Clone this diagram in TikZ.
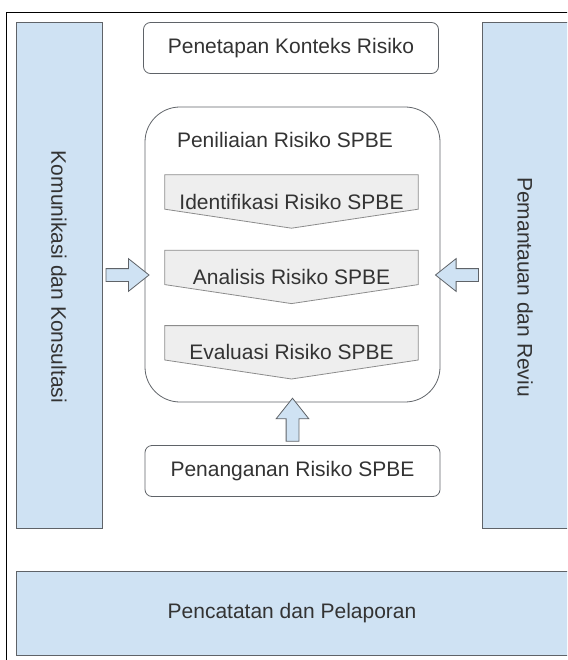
\documentclass[tikz,border=0pt]{standalone}
\usepackage{fontspec}
\setmainfont{Liberation Sans}
\usepackage{xcolor}
\usetikzlibrary{positioning}
\usetikzlibrary{shapes, arrows}
\usetikzlibrary{backgrounds}
\definecolor{barblue}{HTML}{CFE2F3}
\definecolor{edgegray}{HTML}{5F6368}
\definecolor{chevgray}{HTML}{EEEEEE}
\definecolor{chevedge}{HTML}{8C8C8C}
\definecolor{textgray}{HTML}{333333}
\tikzstyle{stage} = [rectangle, draw=edgegray, line width=0.8pt, rounded corners=7pt,
minimum width=295pt, minimum height=51pt, text=textgray, font=\fontsize{21}{25}\selectfont]
\tikzstyle{sidebar} = [rectangle, draw=edgegray, line width=0.8pt, fill=barblue,
minimum width=86pt, minimum height=506pt]
\tikzstyle{chev} = [minimum width=253pt, minimum height=53pt, inner sep=0pt,
text=textgray, font=\fontsize{21}{25}\selectfont]
\tikzstyle{chevshape} = [draw=chevedge, line width=0.8pt, fill=chevgray]
\tikzstyle{label} = [text=textgray, font=\fontsize{21}{25}\selectfont]
\tikzstyle{blockarrow} = [single arrow, draw=edgegray, line width=0.8pt, fill=barblue,
inner sep=6pt, single arrow head extend=10pt, single arrow tip angle=77,
minimum height=43pt, sloped, allow upside down]

\begin{document}
\begin{tikzpicture}[x=1pt, y=-1pt]
	\useasboundingbox (0,0) rectangle (567,660);
	\clip (0,0) rectangle (567,660);
	\draw [line width=0.8pt] (6,12) rectangle (620,720);
	
	% Place nodes
	\node [sidebar] 		(komunikasi) 	at (59,275) 	{};
	\node [sidebar] 		(pemantauan) 	at (525,275) 	{};
	\node [label, rotate=-90] (komunikasi-text) at ([yshift=-2pt]komunikasi.center) {Komunikasi dan Konsultasi};
	\node [label, rotate=-90] (pemantauan-text) at ([yshift=-12pt]pemantauan.center) {Pemantauan dan Reviu};
	\node [stage] 			(penetapan) 	at (291,48) 	{Penetapan Konteks Risiko};
	\node [stage, rounded corners=35pt, minimum height=295pt] (penilaian) at (292.5,254.5) {};
	\node [label] 			(penilaian-title) at (285,140) {Peniliaian Risiko SPBE};
	\node [chev] 			(identifikasi) 	at (291.5,201.5) {Identifikasi Risiko SPBE};
	\node [chev, below=22pt of identifikasi] (analisis) 	{Analisis Risiko SPBE};
	\node [chev, below=22pt of analisis] 	(evaluasi) 	{Evaluasi Risiko SPBE};
	\node [stage] 			(penanganan) 	at (292.5,471) 	{Penanganan Risiko SPBE};
	\node [sidebar, minimum width=552pt, minimum height=84pt, label] (pencatatan) at (292,613) {Pencatatan dan Pelaporan};
	
	% Chevrons behind the texts
	\begin{scope}[on background layer]
		\foreach \n in {identifikasi, analisis, evaluasi}
		\filldraw [chevshape] (\n.north west) -- (\n.north east) -- ([yshift=19pt]\n.south east)
		-- (\n.south) -- ([yshift=19pt]\n.south west) -- cycle;
	\end{scope}
	
	%Draw edges
	\path (komunikasi.east) 	-- node [blockarrow] {} (komunikasi.east -| penilaian.west);
	\path (pemantauan.west) 	-- node [blockarrow] {} (pemantauan.west -| penilaian.east);
	\path (penanganan.north) 	-- node [blockarrow] {} (penanganan.north |- penilaian.south);
	
\end{tikzpicture}
\end{document}
